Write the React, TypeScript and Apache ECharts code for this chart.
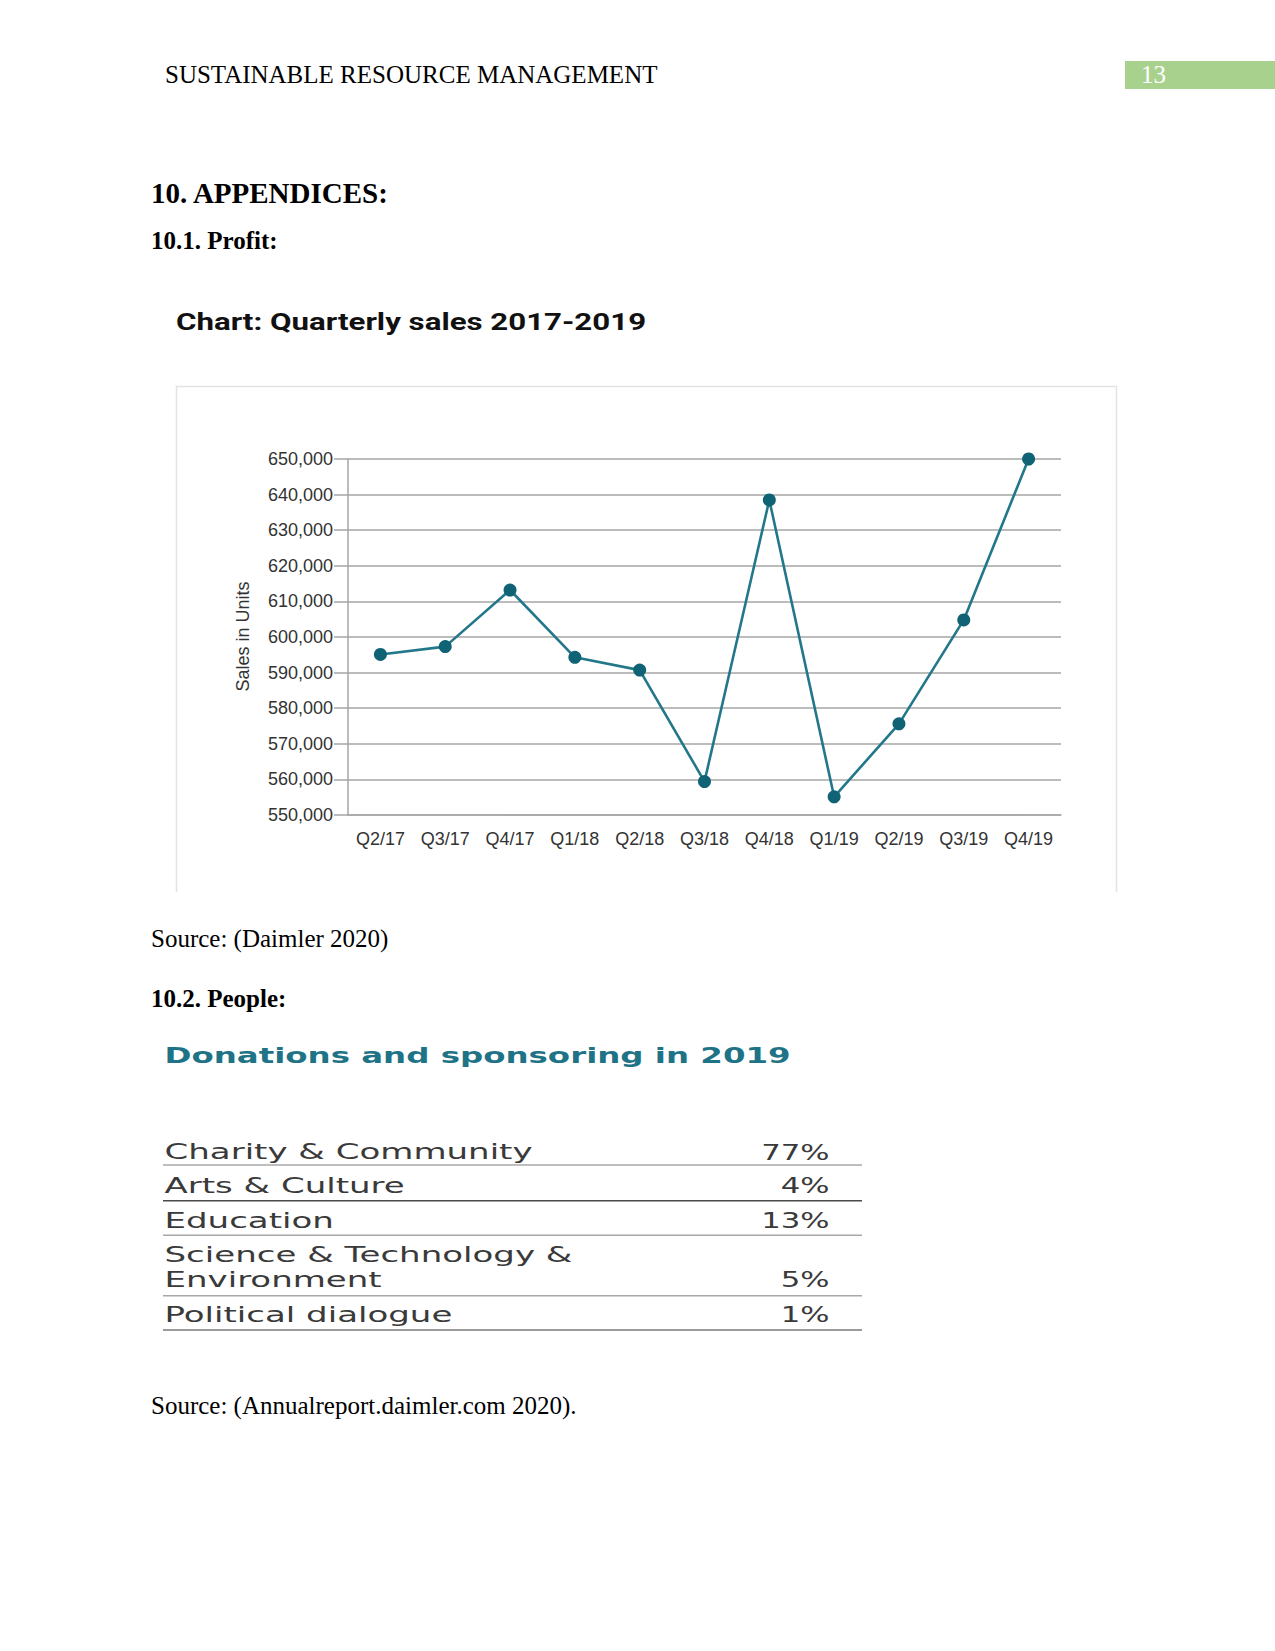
import { useEffect, useRef } from 'react';
import * as echarts from 'echarts';

// ---------- data ----------
const categories = ['Q2/17', 'Q3/17', 'Q4/17', 'Q1/18', 'Q2/18', 'Q3/18', 'Q4/18', 'Q1/19', 'Q2/19', 'Q3/19', 'Q4/19'];
const sales = [595100, 597300, 613200, 594300, 590700, 559400, 638500, 555100, 575600, 604800, 650000];
const yMin = 550000;
const yMax = 650000;
const yStep = 10000;

const donationLabels = ['Charity & Community', 'Arts & Culture', 'Education', 'Science & Technology &\nEnvironment', 'Political dialogue'];
const donationShares = [77, 4, 13, 5, 1];

const headerText = 'SUSTAINABLE RESOURCE MANAGEMENT';
const pageNumber = '13';
const sectionTitle = '10. APPENDICES:';
const profitTitle = '10.1. Profit:';
const chartTitle = 'Chart: Quarterly sales 2017-2019';
const yAxisTitle = 'Sales in Units';
const source1 = 'Source: (Daimler 2020)';
const peopleTitle = '10.2. People:';
const donationsTitle = 'Donations and sponsoring in 2019';
const source2 = 'Source: (Annualreport.daimler.com 2020).';

// ---------- layout / style (not data) ----------
const SERIF = "'Liberation Serif', 'Times New Roman', serif";
const SANS = "'Liberation Sans', Arial, sans-serif";
const WIDE = "'DejaVu Sans', sans-serif";
const rowCenters = [1152.5, 1185.8, 1220.8, 1267.5, 1315.2];
const pctCenters = [1152.5, 1185.8, 1220.8, 1279.8, 1315.2];
const ruleYs = [1165, 1200.7, 1235.3, 1295.7, 1330];
const ruleColors = ['#a8a8a8', '#4a4a4a', '#a8a8a8', '#a8a8a8', '#7a7a7a'];

function txt(x: number, y: number, text: string, font: any, extra: any = {}) {
  const { scaleX, rotation, ...style } = extra;
  const el: any = {
    type: 'text',
    x,
    y,
    style: {
      text,
      x: 0,
      y: 0,
      fill: '#000',
      align: 'left',
      verticalAlign: 'middle',
      ...font,
      ...style,
    },
  };
  if (scaleX) el.scaleX = scaleX;
  if (rotation) el.rotation = rotation;
  return el;
}

export default function App() {
  const ref = useRef<HTMLDivElement>(null);

  useEffect(() => {
    if (!ref.current) return;
    const chart = echarts.init(ref.current, null, { renderer: 'svg' });

    const graphics: any[] = [];
    // header
    graphics.push(txt(165, 74.7, headerText, { fontFamily: SERIF, fontSize: 25 }));
    graphics.push({ type: 'rect', shape: { x: 1125, y: 61, width: 150, height: 28 }, style: { fill: '#a9d18e' } });
    graphics.push(txt(1141, 74.5, pageNumber, { fontFamily: SERIF, fontSize: 25, fill: '#ffffff' }));
    graphics.push(txt(151, 192.5, sectionTitle, { fontFamily: SERIF, fontSize: 29, fontWeight: 'bold' }));
    graphics.push(txt(151, 240, profitTitle, { fontFamily: SERIF, fontSize: 25, fontWeight: 'bold' }));
    // chart title
    graphics.push(txt(176, 321.7, chartTitle, { fontFamily: 'Roboto', fontSize: 23.5, fontWeight: 'bold', fill: '#111' }, { scaleX: 1.33 }));
    // chart frame
    graphics.push({
      type: 'polyline',
      shape: { points: [[176.5, 892], [176.5, 386.5], [1116.5, 386.5], [1116.5, 892]] },
      style: { stroke: '#e3e3e3', lineWidth: 1.5, fill: null },
    });
    // y axis title
    graphics.push(txt(242.7, 636.5, yAxisTitle, { fontFamily: SANS, fontSize: 18, fill: '#333', align: 'center' }, { rotation: Math.PI / 2 }));
    // source 1
    graphics.push(txt(151, 938, source1, { fontFamily: SERIF, fontSize: 25 }));
    graphics.push(txt(151, 998.4, peopleTitle, { fontFamily: SERIF, fontSize: 25, fontWeight: 'bold' }));
    // donations title
    graphics.push(txt(164.5, 1055.8, donationsTitle, { fontFamily: WIDE, fontSize: 21, fontWeight: 'bold', fill: '#1e7386' }, { scaleX: 1.545 }));
    // table
    donationLabels.forEach((label, i) => {
      graphics.push(txt(164.5, rowCenters[i], label, { fontFamily: WIDE, fontSize: 20.5, fill: '#3a3a3a', lineHeight: 24.6 }, { scaleX: 1.66 }));
      graphics.push(txt(829.5, pctCenters[i], donationShares[i] + '%', { fontFamily: WIDE, fontSize: 20.5, fill: '#3a3a3a', align: 'right' }, { scaleX: 1.5 }));
      graphics.push({
        type: 'line',
        shape: { x1: 163, y1: ruleYs[i], x2: 862, y2: ruleYs[i] },
        style: { stroke: ruleColors[i], lineWidth: 1.6 },
      });
    });
    graphics.push(txt(151, 1405, source2, { fontFamily: SERIF, fontSize: 25 }));

    chart.setOption({
      animation: false,
      backgroundColor: '#ffffff',
      grid: { left: 348, top: 459, width: 713, height: 356, containLabel: false, outerBoundsMode: 'none' },
      xAxis: {
        type: 'category',
        data: categories,
        boundaryGap: true,
        axisLine: { show: true, lineStyle: { color: '#a6a6a6', width: 1.5 } },
        axisTick: { show: false },
        axisLabel: { interval: 0, margin: 15, fontSize: 18, color: '#333', fontFamily: SANS },
        splitLine: { show: false },
      },
      yAxis: {
        type: 'value',
        min: yMin,
        max: yMax,
        interval: yStep,
        axisLine: { show: true, lineStyle: { color: '#a6a6a6', width: 1.5 } },
        axisTick: { show: true, length: 14, lineStyle: { color: '#a6a6a6', width: 1.5 } },
        axisLabel: {
          margin: 15,
          fontSize: 18,
          color: '#333',
          fontFamily: SANS,
          formatter: (v: number) => v.toLocaleString('en-US'),
        },
        splitLine: { show: true, lineStyle: { color: '#a6a6a6', width: 1.5 } },
      },
      series: [
        {
          type: 'line',
          data: sales,
          symbol: 'circle',
          symbolSize: 13,
          showAllSymbol: true,
          lineStyle: { color: '#23778a', width: 2.6 },
          itemStyle: { color: '#0f6374' },
          z: 5,
        },
      ],
      graphic: { elements: graphics },
    });

    return () => chart.dispose();
  }, []);

  return (
    <div
      ref={ref}
      style={{ position: 'absolute', left: 0, top: 0, width: 1275, height: 1651, background: '#fff' }}
    />
  );
}
